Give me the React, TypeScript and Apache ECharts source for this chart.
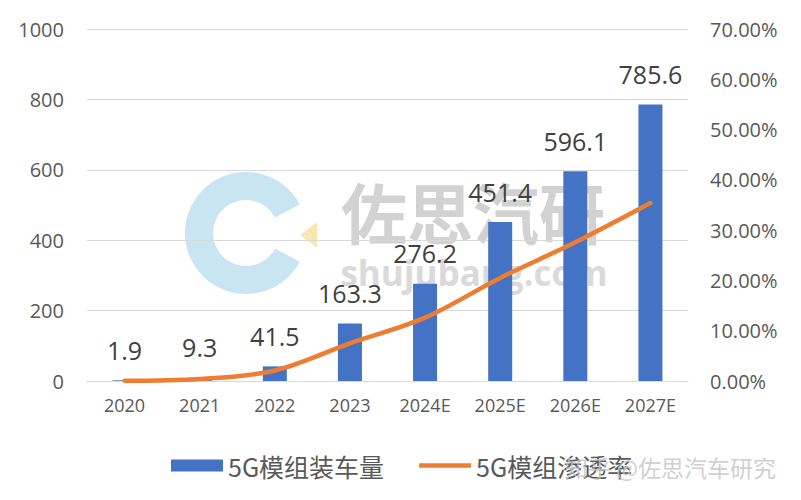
import React, { useEffect, useRef } from "react";
import * as echarts from "echarts";

const categories = ["2020", "2021", "2022", "2023", "2024E", "2025E", "2026E", "2027E"];
const volume = [1.9, 9.3, 41.5, 163.3, 276.2, 451.4, 596.1, 785.6];
const penetration = [0.05, 0.4, 2.1, 7.5, 12.6, 20.5, 27.6, 35.4];
const seriesNames = ["5G模组装车量", "5G模组渗透率"];

const FONT = "'Open Sans', 'Noto Sans CJK SC', sans-serif";

export default function App() {
  const ref = useRef<HTMLDivElement>(null);
  useEffect(() => {
    if (!ref.current) return;
    const chart = echarts.init(ref.current, null, { renderer: "svg" });
    const deg = Math.PI / 180;
    chart.setOption({
      animation: false,
      backgroundColor: "#ffffff",
      textStyle: { fontFamily: FONT },
      grid: { left: 87, right: 113, top: 29, bottom: 119, containLabel: false },
      legend: {
        left: 166,
        top: 448,
        itemWidth: 52,
        itemHeight: 12,
        itemGap: 35,
        textStyle: { fontSize: 25, color: "#595959", fontFamily: "'Noto Sans CJK SC', sans-serif" },
        data: [
          { name: seriesNames[0], icon: "rect" },
          { name: seriesNames[1], icon: "path://M0,0 L52,0 L52,4.5 L0,4.5 Z" },
        ],
      },
      xAxis: {
        type: "category",
        data: categories,
        axisLine: { lineStyle: { color: "#d9d9d9", width: 1 } },
        axisTick: { show: false },
        axisLabel: { fontSize: 18, color: "#595959", margin: 15 },
      },
      yAxis: [
        {
          type: "value",
          min: 0,
          max: 1000,
          interval: 200,
          axisLine: { show: false },
          axisTick: { show: false },
          axisLabel: { fontSize: 20, color: "#595959", margin: 23, formatter: (v: number) => String(v) },
          splitLine: { lineStyle: { color: "#d9d9d9", width: 1 } },
        },
        {
          type: "value",
          min: 0,
          max: 70,
          interval: 10,
          position: "right",
          axisLine: { show: false },
          axisTick: { show: false },
          splitLine: { show: false },
          axisLabel: {
            fontSize: 20,
            color: "#595959",
            margin: 22,
            formatter: (v: number) => v.toFixed(2) + "%",
          },
        },
      ],
      graphic: [
        {
          type: "sector",
          z: 0,
          shape: { cx: 246, cy: 233, r0: 33, r: 61, startAngle: 28 * deg, endAngle: 332 * deg, clockwise: true },
          style: { fill: "#c8e5f1" },
        },
        {
          type: "polygon",
          z: 0,
          shape: { points: [[317, 222], [317, 248], [300, 235]] },
          style: { fill: "#f7e7b0" },
        },
        {
          type: "text",
          z: 0,
          x: 473,
          y: 210,
          style: {
            text: "佐思汽研",
            fontSize: 66,
            fontWeight: "bold",
            fontFamily: "'Noto Sans CJK SC', sans-serif",
            fill: "#d2d2d2",
            align: "center",
            verticalAlign: "middle",
          },
        },
        {
          type: "text",
          z: 0,
          x: 474,
          y: 272,
          style: {
            text: "shujubang.com",
            fontSize: 35,
            fontWeight: "bold",
            fontFamily: "'Open Sans', sans-serif",
            fill: "#dadada",
            align: "center",
            verticalAlign: "middle",
          },
        },
        {
          type: "text",
          z: 100,
          x: 565,
          y: 467,
          style: {
            text: "知乎 @佐思汽车研究",
            fontSize: 23,
            fontFamily: "'Noto Sans CJK SC', sans-serif",
            fill: "rgba(195,195,195,0.8)",
            align: "left",
            verticalAlign: "middle",
          },
        },
      ],
      series: [
        {
          name: seriesNames[0],
          type: "bar",
          data: volume,
          barWidth: 24,
          z: 3,
          itemStyle: { color: "#4472c4" },
          label: {
            show: true,
            position: "top",
            distance: 18,
            fontSize: 25,
            color: "#404040",
          },
        },
        {
          name: seriesNames[1],
          type: "line",
          yAxisIndex: 1,
          data: penetration,
          smooth: 0.35,
          symbol: "none",
          z: 4,
          lineStyle: { color: "#ed7d31", width: 4.5, cap: "round" },
          itemStyle: { color: "#ed7d31" },
        },
      ],
    });
    return () => chart.dispose();
  }, []);
  return <div ref={ref} style={{ width: 801, height: 500, position: "absolute", left: 0, top: 0 }} />;
}
